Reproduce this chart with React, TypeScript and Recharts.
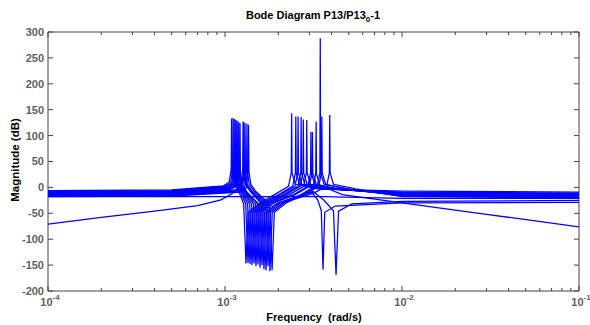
import React from "react";
import { LineChart, Line, XAxis, YAxis, ReferenceArea } from "recharts";

type Pt = [number, number];

// magnitude curves: [frequency rad/s, magnitude dB]
const curve01: Pt[] = [
  [1e-4, -6], [5e-4, -5], [0.98e-3, 3], [1.056e-3, 10], [1.084e-3, 35], [1.089e-3, 133], [1.094e-3, 30],
  [1.122e-3, 6], [1.198e-3, -8], [1.275e-3, -32], [1.314e-3, -147], [1.353e-3, -48], [1.577e-3, -30],
  [1.904e-3, -14], [2.285e-3, 2], [2.368e-3, 28], [2.38e-3, 143], [2.392e-3, 28], [2.499e-3, 6],
  [3.332e-3, -3], [1e-2, -7], [1e-1, -9],
];
const curve02: Pt[] = [
  [1e-4, -7], [5e-4, -6], [0.999e-3, 2], [1.077e-3, 9], [1.104e-3, 35], [1.11e-3, 134], [1.116e-3, 30],
  [1.143e-3, 6], [1.221e-3, -8], [1.309e-3, -32], [1.349e-3, -146], [1.389e-3, -48], [1.619e-3, -30],
  [2.01e-3, -14], [2.412e-3, 2], [2.499e-3, 28], [2.512e-3, 137], [2.525e-3, 28], [2.638e-3, 6],
  [3.517e-3, -3], [1e-2, -9], [1e-1, -11],
];
const curve03: Pt[] = [
  [1e-4, -8], [5e-4, -7], [1.013e-3, 1], [1.091e-3, 8], [1.119e-3, 35], [1.125e-3, 132], [1.131e-3, 30],
  [1.159e-3, 6], [1.238e-3, -8], [1.342e-3, -32], [1.384e-3, -148], [1.426e-3, -48], [1.661e-3, -30],
  [2.07e-3, -14], [2.484e-3, 2], [2.575e-3, 28], [2.588e-3, 137], [2.601e-3, 28], [2.717e-3, 6],
  [3.623e-3, -3], [1e-2, -10], [1e-1, -12],
];
const curve04: Pt[] = [
  [1e-4, -9], [5e-4, -8], [1.026e-3, 0], [1.106e-3, 7], [1.134e-3, 35], [1.14e-3, 131], [1.146e-3, 30],
  [1.174e-3, 6], [1.254e-3, -8], [1.378e-3, -32], [1.421e-3, -150], [1.464e-3, -48], [1.705e-3, -30],
  [2.154e-3, -14], [2.584e-3, 2], [2.679e-3, 28], [2.692e-3, 136], [2.705e-3, 28], [2.827e-3, 6],
  [3.769e-3, -3], [1e-2, -11], [1e-1, -13],
];
const curve05: Pt[] = [
  [1e-4, -10], [5e-4, -9], [1.04e-3, -1], [1.12e-3, 6], [1.149e-3, 35], [1.155e-3, 130], [1.161e-3, 30],
  [1.19e-3, 6], [1.271e-3, -8], [1.415e-3, -32], [1.459e-3, -147], [1.503e-3, -48], [1.751e-3, -30],
  [2.216e-3, -14], [2.659e-3, 2], [2.756e-3, 28], [2.77e-3, 131], [2.784e-3, 28], [2.909e-3, 6],
  [3.878e-3, -3], [1e-2, -12], [1e-1, -14],
];
const curve06: Pt[] = [
  [1e-4, -11], [5e-4, -10], [1.053e-3, -2], [1.135e-3, 5], [1.164e-3, 35], [1.17e-3, 128], [1.176e-3, 30],
  [1.205e-3, 6], [1.287e-3, -8], [1.451e-3, -32], [1.496e-3, -152], [1.541e-3, -48], [1.795e-3, -30],
  [2.318e-3, -14], [2.781e-3, 2], [2.883e-3, 28], [2.897e-3, 130], [2.911e-3, 28], [3.042e-3, 6],
  [4.056e-3, -3], [1e-2, -13], [1e-1, -15],
];
const curve07: Pt[] = [
  [1e-4, -12], [5e-4, -11], [1.067e-3, -3], [1.149e-3, 4], [1.179e-3, 35], [1.185e-3, 127], [1.191e-3, 30],
  [1.221e-3, 6], [1.304e-3, -8], [1.489e-3, -32], [1.535e-3, -149], [1.581e-3, -48], [1.842e-3, -30],
  [2.446e-3, -14], [2.936e-3, 2], [3.043e-3, 28], [3.058e-3, 107], [3.073e-3, 28], [3.211e-3, 6],
  [4.281e-3, -3], [1e-2, -14], [1e-1, -16],
];
const curve08: Pt[] = [
  [1e-4, -13], [5e-4, -12], [1.08e-3, -4], [1.164e-3, 3], [1.194e-3, 35], [1.2e-3, 125], [1.206e-3, 30],
  [1.236e-3, 6], [1.32e-3, -8], [1.53e-3, -32], [1.577e-3, -155], [1.624e-3, -48], [1.892e-3, -30],
  [2.494e-3, -14], [2.993e-3, 2], [3.102e-3, 28], [3.118e-3, 107], [3.134e-3, 28], [3.274e-3, 6],
  [4.365e-3, -3], [1e-2, -15], [1e-1, -17],
];
// the one that climbs from -70 dB and falls away at high frequency
const curve09: Pt[] = [
  [1e-4, -71], [2e-4, -58], [4e-4, -46], [7e-4, -35], [9.5e-4, -24], [1.1e-3, -12], [1.18e-3, -2],
  [1.21e-3, 30], [1.216e-3, 124], [1.222e-3, 28], [1.252e-3, 4], [1.338e-3, -10], [1.569e-3, -34],
  [1.618e-3, -150], [1.667e-3, -50], [1.942e-3, -32], [2.618e-3, -16], [3.141e-3, 0], [3.256e-3, 26],
  [3.272e-3, 127], [3.288e-3, 26], [3.436e-3, 4], [4.6e-3, -14], [1e-2, -30], [3e-2, -52], [1e-1, -76],
];
const curve10: Pt[] = [
  [1e-4, -14], [5e-4, -13], [1.139e-3, -5], [1.227e-3, 2], [1.259e-3, 35], [1.265e-3, 127], [1.271e-3, 30],
  [1.303e-3, 6], [1.392e-3, -8], [1.61e-3, -32], [1.66e-3, -158], [1.71e-3, -48], [1.992e-3, -30],
  [2.762e-3, -14], [3.315e-3, 2], [3.436e-3, 28], [3.453e-3, 288], [3.47e-3, 28], [3.626e-3, 6],
  [4.834e-3, -3], [1e-2, -16], [1e-1, -18],
];
const curve11: Pt[] = [
  [1e-4, -15], [5e-4, -14], [1.152e-3, -6], [1.242e-3, 1], [1.274e-3, 35], [1.28e-3, 126], [1.286e-3, 30],
  [1.318e-3, 6], [1.408e-3, -8], [1.654e-3, -32], [1.705e-3, -160], [1.756e-3, -48], [2.046e-3, -30],
  [2.819e-3, -14], [3.383e-3, 2], [3.506e-3, 28], [3.524e-3, 137], [3.542e-3, 28], [3.7e-3, 6],
  [4.934e-3, -3], [1e-2, -17], [1e-1, -19],
];
const curve12: Pt[] = [
  [1e-4, -16], [5e-4, -15], [1.168e-3, -7], [1.259e-3, 0], [1.292e-3, 35], [1.298e-3, 124], [1.304e-3, 30],
  [1.337e-3, 6], [1.428e-3, -8], [1.698e-3, -32], [1.75e-3, -152], [1.803e-3, -48], [2.1e-3, -30],
  [3.125e-3, -12], [3.75e-3, 2], [3.886e-3, 28], [3.906e-3, 140], [3.926e-3, 28], [4.101e-3, 6],
  [5.468e-3, -3], [1e-2, -18], [1e-1, -20],
];
const curve13: Pt[] = [
  [1e-4, -17], [5e-4, -16], [1.198e-3, -8], [1.291e-3, -1], [1.324e-3, 35], [1.331e-3, 123], [1.338e-3, 30],
  [1.371e-3, 6], [1.464e-3, -8], [1.741e-3, -32], [1.795e-3, -162], [1.849e-3, -48], [2.154e-3, -30],
  [2.8e-3, -14], [3.1e-3, -10], [3.35e-3, -25], [3.5e-3, -45], [3.58e-3, -159], [3.66e-3, -48],
  [4.2e-3, -36], [1e-2, -30], [1e-1, -29],
];
const curve14: Pt[] = [
  [1e-4, -18], [5e-4, -17], [1.222e-3, -9], [1.317e-3, -2], [1.351e-3, 35], [1.358e-3, 121], [1.365e-3, 30],
  [1.399e-3, 6], [1.494e-3, -8], [1.79e-3, -32], [1.845e-3, -160], [1.9e-3, -48], [2.214e-3, -30],
  [2.85e-3, -12], [3.15e-3, -8], [3.6e-3, -24], [4.1e-3, -45], [4.24e-3, -169], [4.38e-3, -46],
  [5.2e-3, -32], [1e-2, -27], [1e-1, -25],
];
const curve15: Pt[] = [[1e-4, -18], [3.6e-3, -18], [1e-2, -21], [1e-1, -21]];

const curves = [
  curve01, curve02, curve03, curve04, curve05, curve06, curve07, curve08,
  curve09, curve10, curve11, curve12, curve13, curve14, curve15,
];

const majorTicks = [1e-4, 1e-3, 1e-2, 1e-1];
const majorExp = ["-4", "-3", "-2", "-1"];
const minorTicks = [
  2e-4, 3e-4, 4e-4, 5e-4, 6e-4, 7e-4, 8e-4, 9e-4,
  2e-3, 3e-3, 4e-3, 5e-3, 6e-3, 7e-3, 8e-3, 9e-3,
  2e-2, 3e-2, 4e-2, 5e-2, 6e-2, 7e-2, 8e-2, 9e-2,
];
const yTicks = [-200, -150, -100, -50, 0, 50, 100, 150, 200, 250, 300];

const PLOT_L = 48;
const PLOT_R = 579;
const PLOT_T = 32;
const PLOT_B = 291;
const AXIS = "#444";
const TICK_TEXT = "#606060";
const FONT = "'Liberation Sans', Arial, Helvetica, sans-serif";

const series = curves.map((c) => c.map(([f, m]) => ({ f, m })));

function XTick(props: any) {
  const { x, payload } = props;
  const idx = majorTicks.indexOf(payload.value);
  const len = idx >= 0 ? 5 : 3;
  return (
    <g>
      <line x1={x} x2={x} y1={PLOT_B} y2={PLOT_B - len} stroke={AXIS} />
      <line x1={x} x2={x} y1={PLOT_T} y2={PLOT_T + len} stroke={AXIS} />
      {idx >= 0 && (
        <text x={x + 2} y={306} textAnchor="middle" fill={TICK_TEXT} fontSize={11} fontWeight="bold" fontFamily={FONT}>
          10
          <tspan dy={-6} fontSize={8}>{majorExp[idx]}</tspan>
        </text>
      )}
    </g>
  );
}

function YTick(props: any) {
  const { y, payload } = props;
  return (
    <g>
      <line x1={PLOT_L} x2={PLOT_L + 5} y1={y} y2={y} stroke={AXIS} />
      <line x1={PLOT_R} x2={PLOT_R - 5} y1={y} y2={y} stroke={AXIS} />
      <text x={PLOT_L - 4} y={y} dy="0.36em" textAnchor="end" fill={TICK_TEXT} fontSize={11} fontWeight="bold" fontFamily={FONT}>
        {payload.value}
      </text>
    </g>
  );
}

export default function App() {
  return (
    <div style={{ position: "absolute", left: 0, top: 0, width: 590, height: 325, background: "#fff" }}>
      <LineChart width={590} height={325} margin={{ top: PLOT_T, right: 590 - PLOT_R, bottom: 0, left: 0 }}>
        <XAxis
          dataKey="f"
          type="number"
          scale="log"
          domain={[1e-4, 1e-1]}
          allowDataOverflow
          ticks={[...majorTicks, ...minorTicks].sort((a, b) => a - b)}
          interval={0}
          tick={(p: any) => <XTick {...p} />}
          tickLine={false}
          axisLine={false}
          height={325 - PLOT_B}
        />
        <YAxis
          type="number"
          domain={[-200, 300]}
          allowDataOverflow
          ticks={yTicks}
          interval={0}
          tick={(p: any) => <YTick {...p} />}
          tickLine={false}
          axisLine={false}
          width={PLOT_L}
        />
        {series.map((d, i) => (
          <Line
            key={i}
            data={d}
            dataKey="m"
            type="linear"
            stroke="#0000ff"
            strokeWidth={1.25}
            dot={false}
            activeDot={false}
            isAnimationActive={false}
          />
        ))}
        <ReferenceArea x1={1e-4} x2={1e-1} y1={-200} y2={300} fill="none" stroke={AXIS} ifOverflow="visible" />
      </LineChart>
      <svg width={590} height={325} style={{ position: "absolute", left: 0, top: 0, pointerEvents: "none" }}>
        <text x={313} y={19} textAnchor="middle" fontSize={11} fontWeight="bold" fontFamily={FONT} fill="#000">
          Bode Diagram P13/P13
          <tspan dy={3} fontSize={8}>0</tspan>
          <tspan dy={-3} fontSize={11}>-1</tspan>
        </text>
        <text
          x={19}
          y={160}
          transform="rotate(-90 19 160)"
          textAnchor="middle"
          fontSize={11.5}
          fontWeight="bold"
          fontFamily={FONT}
          fill="#000"
        >
          Magnitude (dB)
        </text>
        <text x={314} y={321} textAnchor="middle" fontSize={11} fontWeight="bold" fontFamily={FONT} fill="#000" style={{ whiteSpace: "pre" }}>
          {"Frequency  (rad/s)"}
        </text>
      </svg>
    </div>
  );
}
